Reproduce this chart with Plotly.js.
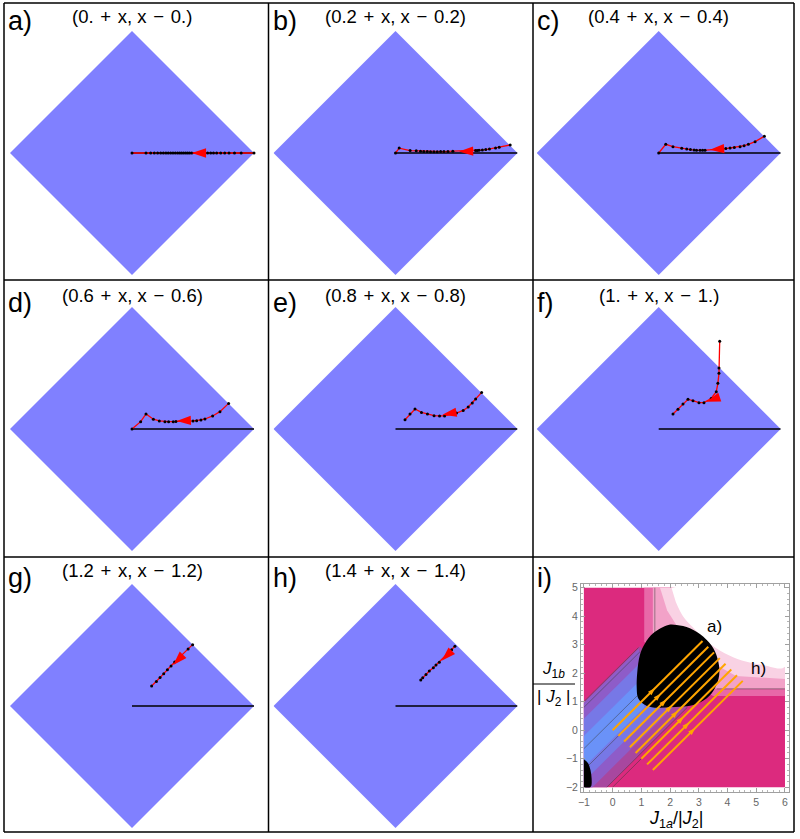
<!DOCTYPE html>
<html>
<head>
<meta charset="utf-8">
<script src="https://cdn.plot.ly/plotly-3.0.1.min.js"></script>
<style>
  html, body { margin: 0; padding: 0; background: #fff; }
  #chart { width: 800px; height: 839px; }
</style>
</head>
<body>
<div id="chart"></div>
<script>
// panel labels and the shift used in each title
const letters = ["a)", "b)", "c)", "d)", "e)", "f)", "g)", "h)", "i)"];
const shiftLabels = ["0.", "0.2", "0.4", "0.6", "0.8", "1.", "1.2", "1.4"];
const shifts = [0, 0.2, 0.4, 0.6, 0.8, 1.0, 1.2, 1.4];

// the blue square (|x|+|y| <= 1) and the reference line
const diamondX = [0, 1, 0, -1, 0];
const diamondY = [1, 0, -1, 0, 1];
const refX = [0, 1];
const refY = [0, 0];

// flow paths
const aX = [0, 0.115, 0.153, 0.183, 0.21, 0.235, 0.257, 0.278, 0.297, 0.317, 0.336, 0.355, 0.374, 0.391, 0.407, 0.423, 0.44, 0.456, 0.472, 0.49, 0.62, 0.645, 0.668, 0.694, 0.727, 0.76, 0.795, 0.84, 0.895, 1.0];
const aY = aX.map(() => 0);
const bX = [0, 0.03, 0.12, 0.17, 0.205, 0.232, 0.26, 0.287, 0.315, 0.342, 0.37, 0.397, 0.43, 0.47, 0.6, 0.656, 0.67, 0.685, 0.712, 0.74, 0.77, 0.82, 0.85, 0.94];
const bY = [0, 0.04, 0.02, 0.018, 0.015, 0.013, 0.012, 0.011, 0.011, 0.011, 0.012, 0.012, 0.013, 0.014, 0.018, 0.02, 0.021, 0.022, 0.025, 0.028, 0.032, 0.04, 0.048, 0.066];
const cX = [0, 0.058, 0.117, 0.189, 0.23, 0.26, 0.29, 0.31, 0.339, 0.36, 0.38, 0.55, 0.585, 0.62, 0.667, 0.70, 0.735, 0.79, 0.866];
const cY = [0, 0.071, 0.052, 0.038, 0.033, 0.028, 0.025, 0.022, 0.022, 0.022, 0.023, 0.036, 0.041, 0.046, 0.052, 0.06, 0.071, 0.093, 0.137];
const dX = [0, 0.071, 0.115, 0.175, 0.224, 0.27, 0.30, 0.338, 0.36, 0.5, 0.53, 0.565, 0.598, 0.661, 0.721, 0.792];
const dY = [0, 0.06, 0.123, 0.08, 0.066, 0.06, 0.06, 0.06, 0.062, 0.066, 0.068, 0.074, 0.082, 0.107, 0.142, 0.21];
const eX = [0.078, 0.119, 0.160, 0.213, 0.262, 0.316, 0.361, 0.402, 0.5, 0.555, 0.596, 0.629, 0.657, 0.706];
const eY = [0.076, 0.123, 0.164, 0.136, 0.123, 0.109, 0.107, 0.107, 0.131, 0.152, 0.180, 0.213, 0.246, 0.30];
const fX = [0.117, 0.158, 0.199, 0.240, 0.281, 0.330, 0.371, 0.43, 0.472, 0.485, 0.494, 0.494, 0.50];
const fY = [0.123, 0.161, 0.205, 0.243, 0.232, 0.216, 0.216, 0.25, 0.306, 0.374, 0.456, 0.50, 0.72];
const gX = [0.161, 0.2, 0.23, 0.26, 0.29, 0.32, 0.35, 0.46, 0.497];
const gY = [0.164, 0.2, 0.233, 0.265, 0.297, 0.328, 0.36, 0.468, 0.503];
const hX = [0.207, 0.223, 0.250, 0.277, 0.310, 0.332, 0.359, 0.46, 0.487];
const hY = [0.213, 0.232, 0.259, 0.287, 0.314, 0.336, 0.358, 0.462, 0.49];
const pathsX = [aX, bX, cX, dX, eX, fX, gX, hX];
const pathsY = [aY, bY, cY, dY, eY, fY, gY, hY];

// where the arrow head sits on each path
const arrowTipX = [0.49, 0.52, 0.42, 0.366, 0.384, 0.39, 0.338, 0.378];
const arrowTipY = [0, 0.012, 0.027, 0.066, 0.117, 0.224, 0.336, 0.371];

// panel i: phase diagram
const iTicksX = [-1, 0, 1, 2, 3, 4, 5, 6];
const iTicksY = [-2, -1, 0, 1, 2, 3, 4, 5];
const bgX = [-1, 6, 6, -1];
const bgY = [-2, -2, 5, 5];
const band1X = [-1, 0.95, 2.0, 2.6, -0.2, -1];
const band1Y = [1, 2.95, 2.0, 0.8, -2, -2];
const band2X = [-1, 0.9, 1.5, 2.1, -0.7, -1];
const band2Y = [0.95, 2.85, 1.5, 0.8, -2, -2];
const band3X = [-1, 1.2, 1.6, -1];
const band3Y = [0.4, 2.6, 0.8, -1.8];
const band4X = [-1, 1.0, 1.1, -1];
const band4Y = [-0.2, 1.8, 0.8, -1.3];
const halo1X = [1.1, 6, 6, 3.5, 2, 1.1];
const halo1Y = [5, 5, 1.2, 1.2, 2, 3.1];
const halo2X = [1.4, 6, 6, 3.6, 2.2, 1.4];
const halo2Y = [5, 5, 1.45, 1.45, 2.2, 3.4];
const halo3X = [1.65, 6, 6, 4.3, 3.4, 2.4, 1.9];
const halo3Y = [5, 5, 1.8, 1.9, 2.4, 3.4, 4.2];
const whiteX = [2.05, 6, 6, 5.2, 4.5, 3.9, 3.3, 2.8, 2.45, 2.2];
const whiteY = [5, 5, 2.23, 2.3, 2.45, 2.7, 3.1, 3.6, 4.0, 4.5];
const blobX = [1.94, 1.41, 1.13, 0.95, 0.86, 0.84, 0.89, 1.13, 1.41, 2.34, 2.81, 3.28, 3.56, 3.71, 3.68, 3.51, 3.16, 2.69, 2.23, 1.94];
const blobY = [3.69, 3.40, 3.05, 2.64, 2.05, 1.47, 1.12, 0.88, 0.80, 0.82, 0.88, 1.12, 1.47, 1.94, 2.40, 2.87, 3.28, 3.58, 3.69, 3.69];
const smallBlobX = [-1, -0.86, -0.77, -0.73, -0.74, -0.78, -1];
const smallBlobY = [-1.02, -1.15, -1.4, -1.7, -1.95, -2.0, -2.0];
const grayLinesX = [[1.47, 1.47], [3.62, 6], [-1, 0.9], [-1, 0.95], [-1, 0.85], [-1, 0.9], [-0.2, 2.6], [0, 2.7]];
const grayLinesY = [[3.35, 5], [1.45, 1.45], [1.0, 2.9], [0.8, 2.75], [-0.65, 1.2], [-1.4, 0.5], [-2, 0.8], [-2, 0.7]];
const orangeLen = 3.13;
const orangeArrowT = 1.48;
const labelA = [3.53, 3.63];
const labelH = [5.08, 2.17];

const W = 800, H = 839;
const px = v => v / W;
const py = v => 1 - v / H;
const colCenters = [132, 395.5, 658.7];
const rowCenters = [153, 429, 706];
const half = 122;
const vBorders = [4, 268.5, 533, 794];
const hBorders = [3, 280, 557, 832];
const letterY = [21, 303, 578];
const titleY = [16.5, 296, 570];
const font = "Liberation Sans, Arial, sans-serif";
const sp = " \u200A";

function arrowAngle(xs, ys, tx, ty) {
    let best = 0, bd = Infinity;
    xs.forEach((x, i) => {
        const d = (x - tx) ** 2 + (ys[i] - ty) ** 2;
        if (d < bd) { bd = d; best = i; }
    });
    const i0 = Math.max(best - 1, 0), i1 = Math.min(best + 1, xs.length - 1);
    return Math.atan2(xs[i0] - xs[i1], ys[i0] - ys[i1]) * 180 / Math.PI;
}

let traces = [];
const layout = {
    width: W, height: H,
    margin: {l: 0, r: 0, t: 0, b: 0},
    paper_bgcolor: "#fff",
    plot_bgcolor: "rgba(0,0,0,0)",
    showlegend: false,
    font: {family: font, color: "#000"},
    annotations: [],
    shapes: []
};

for (let k = 0; k < 8; k++) {
    const id = k === 0 ? "" : String(k + 1);
    const row = Math.floor(k / 3), col = k % 3;
    const cx = colCenters[col], cy = rowCenters[row];
    const xa = "x" + id, ya = "y" + id;
    layout["xaxis" + id] = {domain: [px(cx - half), px(cx + half)], range: [-1, 1], anchor: ya,
        visible: false, fixedrange: true};
    layout["yaxis" + id] = {domain: [py(cy + half), py(cy - half)], range: [-1, 1], anchor: xa,
        visible: false, fixedrange: true};
    traces.push({x: diamondX, y: diamondY, xaxis: xa, yaxis: ya, mode: "lines", fill: "toself",
        fillcolor: "#8080ff", line: {width: 0}, hoverinfo: "skip", cliponaxis: false});
    traces.push({x: refX, y: refY, xaxis: xa, yaxis: ya, mode: "lines",
        line: {color: "#000", width: 1.3}, hoverinfo: "skip", cliponaxis: false});
    traces.push({x: pathsX[k], y: pathsY[k], xaxis: xa, yaxis: ya, mode: "lines+markers",
        line: {color: "#ff0000", width: 1.3}, marker: {color: "#000", size: 3},
        cliponaxis: false});
    traces.push({x: [arrowTipX[k]], y: [arrowTipY[k]], xaxis: xa, yaxis: ya, mode: "markers",
        marker: {symbol: "arrow", size: 15, color: "#ff0000", line: {width: 0},
            angle: arrowAngle(pathsX[k], pathsY[k], arrowTipX[k], arrowTipY[k])},
        cliponaxis: false});
    layout.annotations.push({xref: "paper", yref: "paper", x: px(cx), y: py(titleY[row]),
        text: "(" + shiftLabels[k] + sp + "+" + sp + "x, x" + sp + "\u2212" + sp + shiftLabels[k] + ")",
        showarrow: false, xanchor: "center", yanchor: "middle", font: {size: 18.5, color: "#000"}});
}

// panel i
const iAxis = {
    showgrid: false, zeroline: false, showline: true, linecolor: "#a0a0a0", linewidth: 1, mirror: "allticks",
    ticks: "inside", ticklen: 4, tickcolor: "#a0a0a0", tickfont: {size: 10.5, color: "#666"},
    minor: {ticks: "inside", ticklen: 2, dtick: 0.2, tickcolor: "#b5b5b5"}, fixedrange: true
};
layout.xaxis9 = Object.assign({domain: [px(581), px(789.3)], range: [-1.1, 6.15], tickvals: iTicksX, anchor: "y9"}, iAxis);
layout.yaxis9 = Object.assign({domain: [py(792.3), py(584.3)], range: [-2.18, 5.12], tickvals: iTicksY, anchor: "x9"}, iAxis);

function region(xs, ys, color, smooth) {
    traces.push({x: xs, y: ys, xaxis: "x9", yaxis: "y9", mode: "lines", fill: "toself",
        fillcolor: color, line: {width: 0, shape: smooth ? "spline" : "linear"}, hoverinfo: "skip"});
}
region(bgX, bgY, "#dc2a7e");
region(band1X, band1Y, "#a8479f");
region(band2X, band2Y, "#8e5cc8");
region(band3X, band3Y, "#7778e6");
region(band4X, band4Y, "#6a92f8");
region(halo1X, halo1Y, "#e868a8");
region(halo2X, halo2Y, "#f2a2c8");
region(halo3X, halo3Y, "#f9d2e4");
region(whiteX, whiteY, "#ffffff", true);
grayLinesX.forEach((xs, i) => {
    traces.push({x: xs, y: grayLinesY[i], xaxis: "x9", yaxis: "y9", mode: "lines",
        line: {color: "rgba(60,60,60,0.55)", width: 0.9}, hoverinfo: "skip"});
});
region(blobX, blobY, "#000000", true);
region(smallBlobX, smallBlobY, "#000000", true);

shifts.forEach(c => {
    traces.push({x: [c, c + orangeLen], y: [-c, orangeLen - c], xaxis: "x9", yaxis: "y9",
        mode: "lines", line: {color: "#ffa500", width: 2}, hoverinfo: "skip"});
    traces.push({x: [c + orangeArrowT], y: [orangeArrowT - c], xaxis: "x9", yaxis: "y9",
        mode: "markers", marker: {symbol: "arrow", size: 8, angle: 45, color: "#ffa500", line: {width: 0}},
        hoverinfo: "skip"});
});

layout.annotations.push({xref: "x9", yref: "y9", x: labelA[0], y: labelA[1], text: "a)",
    showarrow: false, font: {size: 17, color: "#000"}});
layout.annotations.push({xref: "x9", yref: "y9", x: labelH[0], y: labelH[1], text: "h)",
    showarrow: false, font: {size: 17, color: "#000"}});

// axis titles of panel i
layout.annotations.push({xref: "paper", yref: "paper", x: px(676), y: py(806),
    text: "<i>J</i><sub>1<i>a</i></sub>/|<i>J</i><sub>2</sub>|", showarrow: false,
    xanchor: "center", yanchor: "top", font: {size: 18, color: "#000"}});
layout.annotations.push({xref: "paper", yref: "paper", x: px(553), y: py(683),
    text: "<i>J</i><sub>1<i>b</i></sub>", showarrow: false,
    xanchor: "center", yanchor: "bottom", font: {size: 17, color: "#000"}});
layout.annotations.push({xref: "paper", yref: "paper", x: px(553), y: py(685),
    text: "| <i>J</i><sub>2</sub> |", showarrow: false,
    xanchor: "center", yanchor: "top", font: {size: 17, color: "#000"}});
layout.shapes.push({type: "line", xref: "paper", yref: "paper", x0: px(533), x1: px(575),
    y0: py(684), y1: py(684), line: {color: "#000", width: 1}});

// panel letters
letters.forEach((t, k) => {
    const row = Math.floor(k / 3), col = k % 3;
    layout.annotations.push({xref: "paper", yref: "paper", x: px(vBorders[col] + 2), y: py(letterY[row]),
        text: t, showarrow: false, xanchor: "left", yanchor: "middle", font: {size: 27, color: "#000"}});
});

// grid of frames
vBorders.forEach(v => layout.shapes.push({type: "line", xref: "paper", yref: "paper",
    x0: px(v), x1: px(v), y0: py(hBorders[0]), y1: py(hBorders[3]), line: {color: "#000", width: 1.5}}));
hBorders.forEach(h => layout.shapes.push({type: "line", xref: "paper", yref: "paper",
    x0: px(vBorders[0]), x1: px(vBorders[3]), y0: py(h), y1: py(h), line: {color: "#000", width: 1.5}}));

Plotly.newPlot("chart", traces, layout, {displayModeBar: false, staticPlot: true});
</script>
</body>
</html>
